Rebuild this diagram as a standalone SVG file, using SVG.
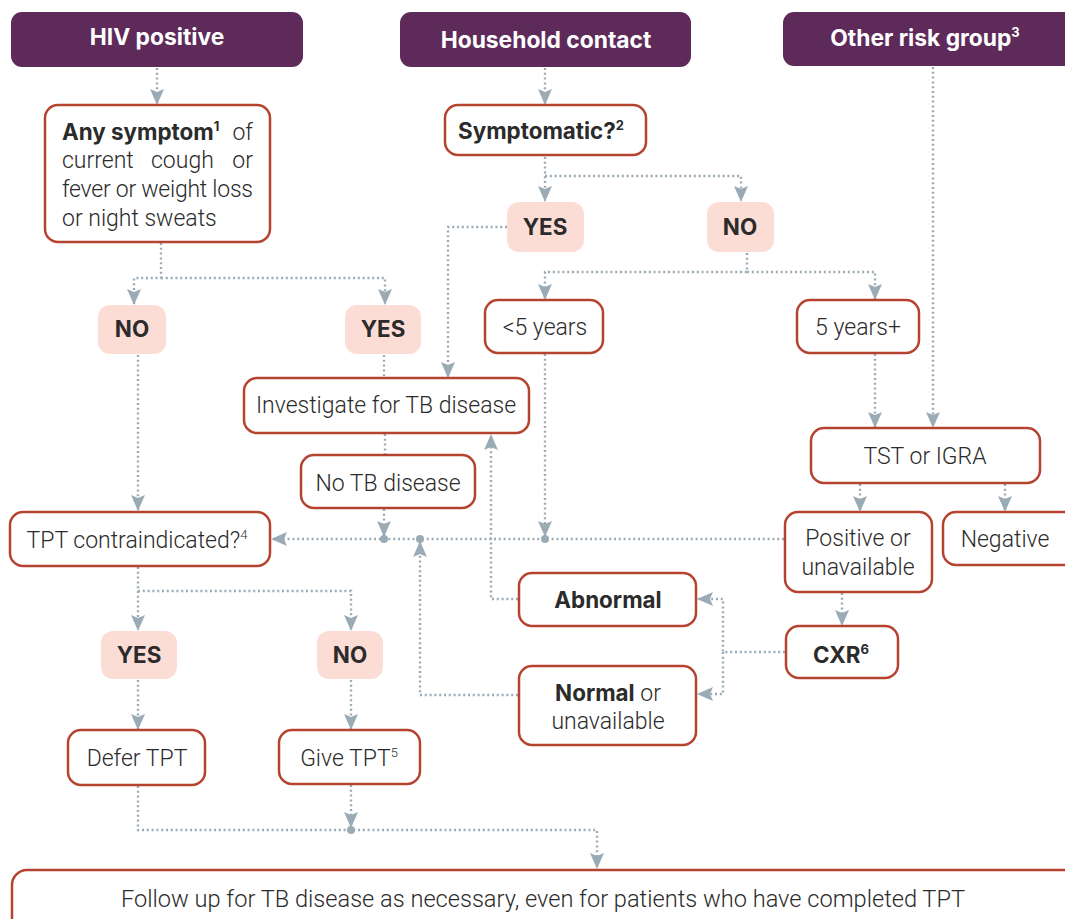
<svg xmlns="http://www.w3.org/2000/svg" width="1065" height="919" viewBox="0 0 1065 919">
<style>
.hdr{fill:#5e2a5a}
.hdrt{fill:#fff;font-family:Inter,"Liberation Sans",sans-serif;font-weight:700;font-size:22.8px;text-anchor:middle}
.box{fill:#fff;stroke:#b5432f;stroke-width:2.5}
.pill{fill:#fcddd6}
.t{fill:#2b2b2b;font-family:Roboto,"Liberation Sans",sans-serif;font-size:23px;font-weight:300}
.c{text-anchor:middle}
.b{font-family:Inter,"Liberation Sans",sans-serif;font-weight:700;font-size:22.4px}
.sup{font-size:13px}
.con{fill:none;stroke:#9aabb5;stroke-width:2.4;stroke-dasharray:2 2.8}
.arr{marker-end:url(#ah)}
.dot{fill:#9aabb5}
</style>
<defs>
<marker id="ah" markerUnits="userSpaceOnUse" markerWidth="16" markerHeight="14" refX="15" refY="7" orient="auto">
<path d="M0,0 L16,7 L0,14 L3,7 z" fill="#9aabb5"/>
</marker>
</defs>
<rect width="1065" height="919" fill="#fff"/>

<g id="connectors">
<path class="con arr" d="M157,68 V104"/>
<path class="con arr" d="M545,68 V104"/>
<path class="con arr" d="M933,67 V427"/>
<path class="con arr" d="M545,157 V201"/>
<path class="con arr" d="M545,176 H741 V201"/>
<path class="con arr" d="M507,227 H448 V377"/>
<path class="con arr" d="M747,253 V272 H545 V299"/>
<path class="con arr" d="M747,272 H875 V299"/>
<path class="con arr" d="M875,354 V427"/>
<path class="con arr" d="M545,354 V536"/>
<path class="con arr" d="M161,243 V278 H134 V304"/>
<path class="con arr" d="M161,278 H385 V304"/>
<path class="con" d="M384,355 V377"/>
<path class="con" d="M385,434 V454"/>
<path class="con arr" d="M384,509 V536"/>
<path class="con arr" d="M138,355 V510"/>
<path class="con arr" d="M784,539 H272"/>
<path class="con arr" d="M860,484 V511"/>
<path class="con arr" d="M1005,484 V511"/>
<path class="con arr" d="M842,593 V625"/>
<path class="con arr" d="M785,652 H723 V599 H698"/>
<path class="con arr" d="M723,652 V694 H698"/>
<path class="con arr" d="M518,599 H491 V435"/>
<path class="con arr" d="M518,695 H420 V542"/>
<path class="con arr" d="M138,567 V630"/>
<path class="con arr" d="M138,591 H351 V630"/>
<path class="con arr" d="M138,680 V729"/>
<path class="con arr" d="M351,680 V729"/>
<path class="con arr" d="M138,786 V830 H597 V868"/>
<path class="con arr" d="M351,785 V827"/>
<circle class="dot" cx="545" cy="539" r="4"/>
<circle class="dot" cx="384" cy="539" r="4"/>
<circle class="dot" cx="420" cy="539" r="4"/>
<circle class="dot" cx="351" cy="830" r="4"/>
</g>

<g id="hiv-positive">
<rect class="hdr" x="11" y="12" width="292" height="55" rx="11"/>
<text class="hdrt" x="157" y="45">HIV positive</text>
</g>
<g id="household-contact">
<rect class="hdr" x="400" y="12" width="291" height="55" rx="11"/>
<text class="hdrt" x="546" y="48">Household contact</text>
</g>
<g id="other-risk-group">
<rect class="hdr" x="783" y="12" width="300" height="54" rx="11"/>
<text class="hdrt" x="925" y="46">Other risk group<tspan class="sup" dy="-9">3</tspan></text>
</g>

<g id="any-symptom">
<rect class="box" x="45" y="105" width="225" height="137" rx="13"/>
<text class="t" x="62" y="140"><tspan class="b">Any symptom</tspan><tspan class="b sup" dy="-9">1</tspan></text>
<text class="t" x="253" y="140" text-anchor="end">of</text>
<text class="t" x="62" y="168">current</text>
<text class="t" x="151" y="168">cough</text>
<text class="t" x="253" y="168" text-anchor="end">or</text>
<text class="t" x="62" y="197" textLength="191" lengthAdjust="spacing">fever or weight loss</text>
<text class="t" x="62" y="226">or night sweats</text>
</g>

<g id="symptomatic">
<rect class="box" x="445" y="105" width="201" height="50" rx="13"/>
<text class="t b c" x="541" y="139">Symptomatic?<tspan class="sup" dy="-9">2</tspan></text>
</g>

<g id="hc-yes">
<rect class="pill" x="507" y="202" width="77" height="50" rx="12"/>
<text class="t b c" x="545" y="235">YES</text>
</g>
<g id="hc-no">
<rect class="pill" x="707" y="202" width="67" height="50" rx="12"/>
<text class="t b c" x="740" y="235">NO</text>
</g>

<g id="under-5">
<rect class="box" x="485" y="300" width="118" height="53" rx="13"/>
<text class="t c" x="545" y="335">&lt;5 years</text>
</g>
<g id="five-plus">
<rect class="box" x="797" y="300" width="122" height="53" rx="13"/>
<text class="t c" x="858" y="335">5 years+</text>
</g>

<g id="hiv-no">
<rect class="pill" x="98" y="305" width="68" height="49" rx="12"/>
<text class="t b c" x="132" y="337">NO</text>
</g>
<g id="hiv-yes">
<rect class="pill" x="345" y="305" width="76" height="49" rx="12"/>
<text class="t b c" x="383" y="337">YES</text>
</g>

<g id="investigate">
<rect class="box" x="244" y="378" width="285" height="55" rx="13"/>
<text class="t c" x="386" y="413">Investigate for TB disease</text>
</g>
<g id="no-tb">
<rect class="box" x="301" y="455" width="174" height="53" rx="13"/>
<text class="t c" x="388" y="491">No TB disease</text>
</g>

<g id="tst-igra">
<rect class="box" x="811" y="428" width="229" height="55" rx="13"/>
<text class="t c" x="925" y="464">TST or IGRA</text>
</g>
<g id="positive">
<rect class="box" x="785" y="512" width="147" height="80" rx="13"/>
<text class="t c" x="858" y="546">Positive  or</text>
<text class="t c" x="858" y="575">unavailable</text>
</g>
<g id="negative">
<rect class="box" x="943" y="512" width="140" height="53" rx="13"/>
<text class="t c" x="1005" y="547">Negative</text>
</g>

<g id="tpt-contra">
<rect class="box" x="10" y="512" width="260" height="54" rx="13"/>
<text class="t c" x="137" y="548">TPT contraindicated?<tspan class="sup" dy="-9">4</tspan></text>
</g>

<g id="abnormal">
<rect class="box" x="519" y="573" width="177" height="53" rx="13"/>
<text class="t b c" x="608" y="608">Abnormal</text>
</g>
<g id="normal">
<rect class="box" x="519" y="666" width="177" height="79" rx="13"/>
<text class="t c" x="608" y="701"><tspan class="b">Normal</tspan> or</text>
<text class="t c" x="608" y="729">unavailable</text>
</g>
<g id="cxr">
<rect class="box" x="786" y="626" width="112" height="52" rx="13"/>
<text class="t b c" x="841" y="663">CXR<tspan class="sup" dy="-9">6</tspan></text>
</g>

<g id="tpt-yes">
<rect class="pill" x="101" y="631" width="76" height="48" rx="12"/>
<text class="t b c" x="139" y="663">YES</text>
</g>
<g id="tpt-no">
<rect class="pill" x="317" y="631" width="66" height="48" rx="12"/>
<text class="t b c" x="350" y="663">NO</text>
</g>

<g id="defer-tpt">
<rect class="box" x="68" y="730" width="137" height="55" rx="13"/>
<text class="t c" x="137" y="766">Defer TPT</text>
</g>
<g id="give-tpt">
<rect class="box" x="279" y="730" width="141" height="54" rx="13"/>
<text class="t c" x="349" y="766">Give TPT<tspan class="sup" dy="-9">5</tspan></text>
</g>

<g id="follow-up">
<rect class="box" x="12" y="870" width="1080" height="80" rx="15"/>
<text class="t c" x="543" y="907" style="font-size:23.6px">Follow up for TB disease as necessary, even for patients who have completed TPT</text>
</g>
</svg>
